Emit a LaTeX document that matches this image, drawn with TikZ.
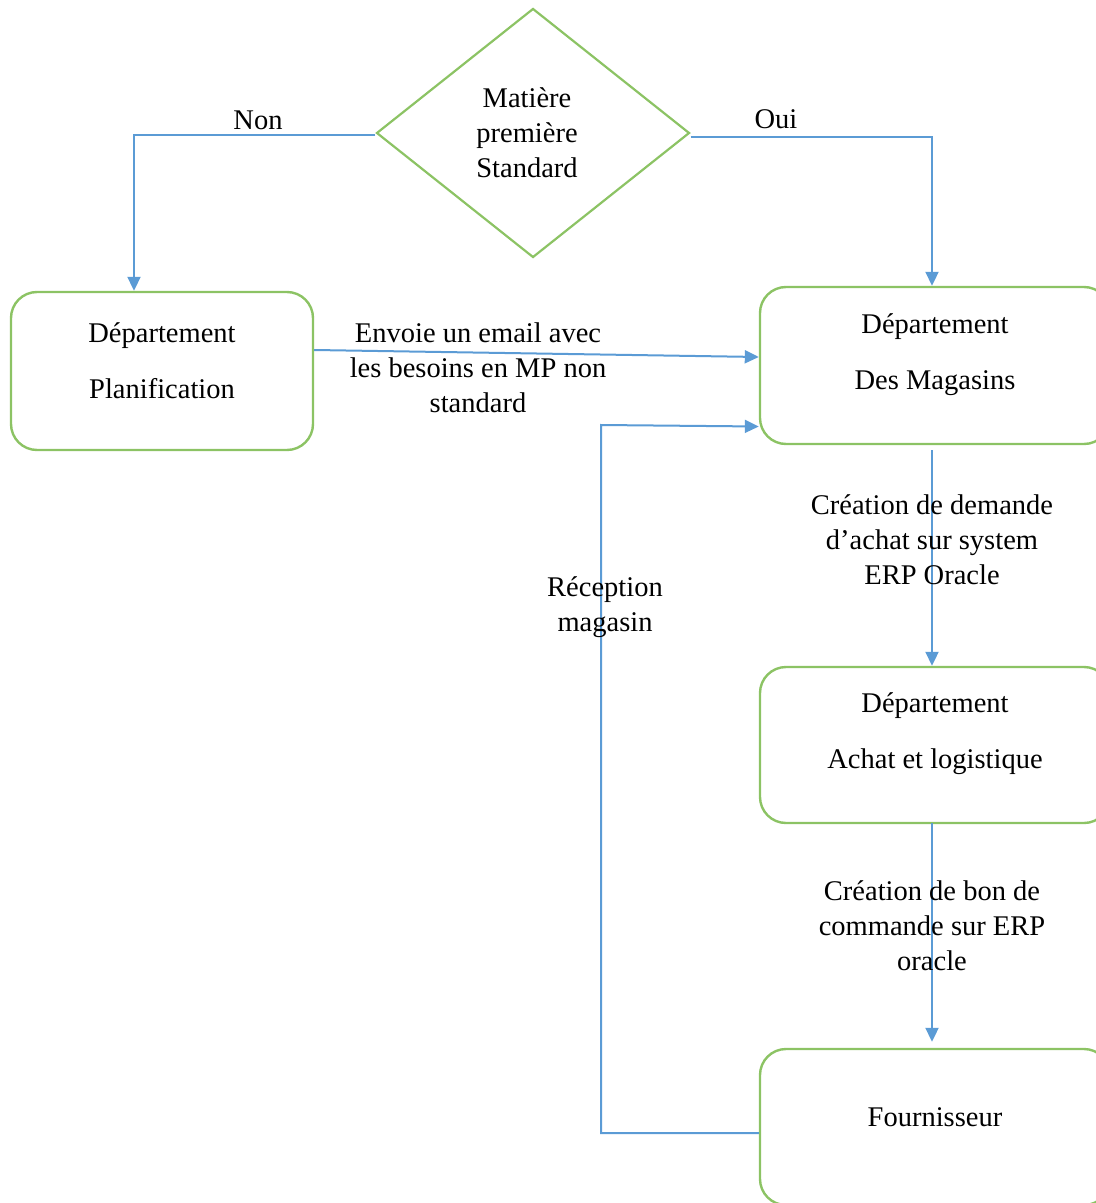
\documentclass[tikz,border=0pt]{standalone}
\usepackage{fontspec}
\setmainfont{Liberation Serif}
\usetikzlibrary{arrows.meta,shapes.geometric}
\definecolor{boxgreen}{RGB}{140,195,100}
\definecolor{flowblue}{RGB}{91,155,213}
\begin{document}
\begin{tikzpicture}[x=0.5pt,y=-0.5pt,
  txt/.style={font=\fontsize{14.25pt}{17.5pt}\selectfont, text=black, align=center, inner sep=0pt},
  box/.style={draw=boxgreen, line width=1.2pt, rounded corners=13pt, inner sep=0pt},
  decision/.style={diamond, draw=boxgreen, line width=1.1pt, inner sep=0pt},
  flow/.style={draw=flowblue, line width=1pt, -{Triangle[length=7pt,width=6.5pt]}},
  plain/.style={draw=flowblue, line width=1pt}
]
\useasboundingbox (0,0) rectangle (1096,1203);
\clip (0,0) rectangle (1096,1203);

% decision
\node[decision, minimum width=156.5pt, minimum height=124.5pt] (dec) at (533,133) {};
\node[txt] (dect) at (527,133) {Matière\\première\\Standard};

% process boxes
\node[box, minimum width=151pt, minimum height=79pt] (plan) at (162,371) {};
\node[box, minimum width=175pt, minimum height=78.5pt] (mag) at (935,365.5) {};
\node[box, minimum width=175pt, minimum height=78pt] (ach) at (935,745) {};
\node[box, minimum width=175pt, minimum height=78pt] (four) at (935,1127) {};

\node[txt] (plant) at (162,361) {Département\\[10.5pt]Planification};
\node[txt] (magt) at (935,354.5) {Département\\[10.5pt]Des Magasins};
\node[txt] (acht) at (935,733.5) {Département\\[10.5pt]Achat et logistique};
\node[txt] (fourt) at (935,1117) {Fournisseur};

% decision branches
\coordinate (nonturn) at (134,135);
\draw[flow] ([yshift=-1pt]dec.west) -- (nonturn) -- (nonturn |- plan.north);
\coordinate (ouiturn) at (932,137);
\draw[flow] ([yshift=-2pt]dec.east) -- (ouiturn) -- (ouiturn |- mag.north);
\node[txt] (non) at (258,120) {Non};
\node[txt] (oui) at (776,119) {Oui};

% planning to stores
\draw[flow] ([yshift=10.5pt]plan.east) -- ([yshift=4.25pt]mag.west);
\node[txt] (mail) at (478,368) {Envoie un email avec\\les besoins en MP non\\standard};

% stores to purchasing to supplier
\coordinate (c1) at (932,450);
\draw[flow] (c1) -- (c1 |- ach.north);
\node[txt] (da) at (932,540) {Création de demande\\d’achat sur system\\ERP Oracle};
\coordinate (c2) at (932,823);
\draw[flow] (c2) -- ([yshift=3pt]c2 |- four.north);
\node[txt] (bc) at (932,926) {Création de bon de\\commande sur ERP\\oracle};

% goods receipt back to stores
\coordinate (r1) at (601,1133);
\coordinate (r2) at (601,425);
\draw[flow] ([yshift=-3pt]four.west) -- (r1) -- (r2) -- ([yshift=-30.5pt]mag.west);
\node[txt] (rec) at (605,607) {Réception\\magasin};
\end{tikzpicture}
\end{document}
